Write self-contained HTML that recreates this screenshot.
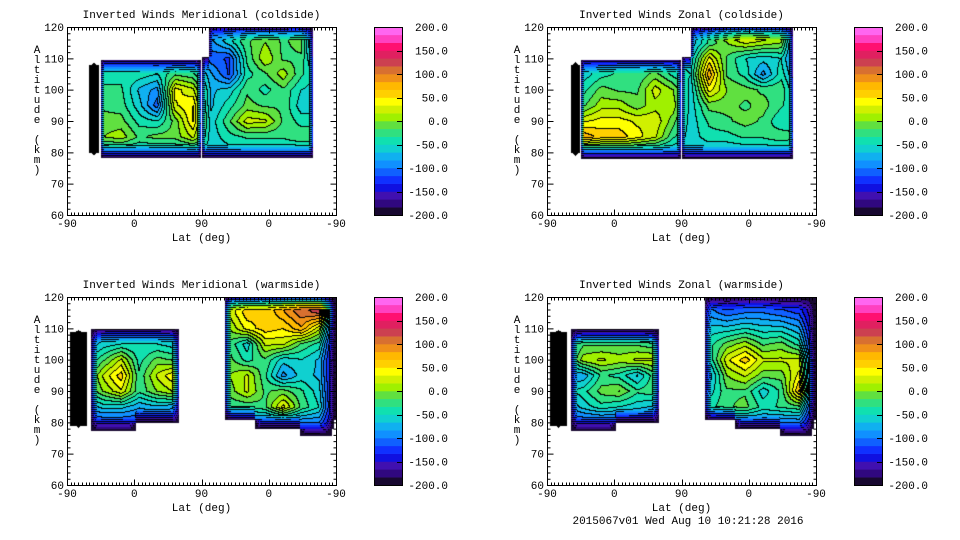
<!DOCTYPE html>
<html><head><meta charset="utf-8">
<style>
body{margin:0;background:#fff;width:960px;height:540px;overflow:hidden;position:relative;font-family:"Liberation Mono",monospace;}
canvas{position:absolute;}
svg{position:absolute;left:0;top:0;}
text{font-family:"Liberation Mono",monospace;font-size:11px;fill:#000;}
</style></head>
<body>
<div id="plots"></div>
<svg id="ov" width="960" height="540"></svg>
<script>
// ---- data ----
const colAlts = [120,115,110,105,100,95,90,85,80,75];
const colPos = [0,18,36,54,72,90,108,126,144,162,180,198,216,234,252,270];
const xTickLabels = ["-90","0","90","0","-90"];
const yTickLabels = [60,70,80,90,100,110,120];
const cbLabels = ["200.0","150.0","100.0","50.0","0.0","-50.0","-100.0","-150.0","-200.0"];
const bandColors = ["#180830","#300880","#4010b0","#1010e0","#1030ff","#1060ff","#1090ff","#10b0f0","#10d0d0","#10e0b0","#30e080","#60e040","#a0f000","#d0f000","#ffff00","#ffd000","#ffb800","#f09018","#d87030","#cc4050","#e02060","#ff1070","#ff40c0","#ff66f0"];
const titles = ["Inverted Winds Meridional (coldside)","Inverted Winds Zonal (coldside)","Inverted Winds Meridional (warmside)","Inverted Winds Zonal (warmside)"];
const gridMerCold = [
[0,0,0,0,0,0,0,0,-60,-40,-25,-20,-20,-10,-150,-150],
[0,0,0,0,0,0,0,0,-90,-60,-20,0,-20,-10,-150,-150],
[0,0,-60,-60,-60,-60,-60,-60,-110,-120,-30,15,-20,-20,-100,-150],
[0,0,-40,-40,-40,-50,-20,-30,-80,-120,-40,-20,10,-30,-60,-100],
[0,0,-30,-30,-70,-90,40,20,-70,-60,-20,-40,-20,-50,-60,-60],
[0,0,-20,-25,-60,-110,30,50,-70,-40,-10,-20,-20,-60,-60,-60],
[0,0,-10,-10,-40,-50,-10,50,-60,-20,25,20,-20,-40,-40,-40],
[0,0,0,10,-20,-10,-10,20,-60,-40,-30,-30,-30,-20,-20,-20],
[-60,-60,-60,-60,-60,-60,-60,-60,-60,-60,-60,-60,-60,-60,-60,-60],
[-150,-150,-150,-150,-150,-150,-150,-150,-150,-150,-150,-150,-150,-150,-150,-150]];
const gridZonCold = [
[0,0,0,0,0,0,0,0,-80,-20,40,80,60,40,-150,-150],
[0,0,0,0,0,0,0,0,-80,-30,0,20,10,0,-150,-150],
[0,0,-50,-40,-40,-40,-40,-50,-60,40,-20,-50,-60,-50,-120,-150],
[0,0,-60,-40,-30,-30,-10,-40,-50,80,-20,-40,-90,-40,-100,-100],
[0,0,-40,-10,-20,-20,25,0,-60,40,0,-10,-20,-20,-80,-80],
[0,0,-20,10,10,-10,10,10,-60,-10,-10,-20,-10,-30,-60,-60],
[0,0,30,40,40,30,30,-10,-60,-30,-20,-10,-20,-50,-50,-50],
[0,0,80,60,60,40,20,-30,-60,-40,-40,-30,-30,-20,-30,-30],
[-70,-70,-70,-70,-70,-70,-70,-70,-70,-70,-70,-70,-70,-70,-70,-70],
[-150,-150,-150,-150,-150,-150,-150,-150,-150,-150,-150,-150,-150,-150,-150,-150]];
const gridMerWarm = [
[0,0,0,0,0,0,0,0,0,20,50,60,90,130,130,-180],
[0,0,0,0,0,0,0,0,0,20,60,50,80,110,120,-180],
[-180,-120,-90,-90,-90,-90,-100,0,0,0,40,60,50,80,20,-180],
[-180,-80,-60,-50,-50,-50,-60,0,0,-20,-60,20,20,-20,-40,-180],
[-180,-60,-20,20,-40,-10,-20,0,0,-10,-40,-20,-60,-50,-70,-180],
[-180,-40,20,60,-30,20,50,0,0,0,20,-30,-90,-60,-70,-180],
[-180,-40,0,30,-30,0,20,0,0,-10,20,-20,-10,-30,-60,-180],
[-180,-80,-60,-60,-80,-70,-80,0,0,-30,-30,-20,40,-20,-50,-180],
[-180,-120,-120,-120,-120,-120,-120,0,0,-100,-100,-100,-100,-100,-100,-180],
[-160,-160,-160,-160,-160,-160,-160,-160,-160,-160,-160,-160,-160,-160,-160,-180]];
const gridZonWarm = [
[0,0,0,0,0,0,0,0,0,-120,-140,-120,-120,-140,-140,-180],
[0,0,0,0,0,0,0,0,0,-90,-110,-100,-100,-110,-120,-180],
[-180,-140,-130,-130,-130,-130,-130,0,0,-60,-60,-50,-60,-60,-80,-180],
[-180,-60,-20,-20,-20,-20,-30,0,0,-40,-10,10,-20,-10,-40,-180],
[-180,-60,10,20,10,20,20,0,0,-50,30,60,20,20,20,-180],
[-180,-80,-80,-30,-40,-70,-20,0,0,-80,0,20,-10,-10,40,-180],
[-180,-60,-40,-10,0,-30,-20,0,0,-60,-20,-20,-60,-30,70,-180],
[-180,-90,-60,-40,-50,-60,-70,0,0,-40,-20,-10,-40,-30,-20,-180],
[-180,-120,-120,-120,-120,-120,-120,0,0,-100,-100,-100,-100,-100,-100,-180],
[-160,-160,-160,-160,-160,-160,-160,-160,-160,-160,-160,-160,-160,-160,-160,-180]];

const panels = [
 {name:"meridional-coldside", x:67, y:27, grid:gridMerCold, dx:4,
  strips:[[22,31,79,109]], rects:[[34,133,78.5,109.5],[135,245,78.5,110.5],[142,245,110,121]]},
 {name:"zonal-coldside", x:547, y:27, grid:gridZonCold, dx:4,
  strips:[[24,32,79,109]], rects:[[34,133,78,109.5],[135,245,78,110.5],[144,245,110,121]]},
 {name:"meridional-warmside", x:67, y:297, grid:gridMerWarm, dx:7,
  strips:[[3,19,78,110]], rects:[[24,68,77.5,110],[24,111,80,110],[158,268,81,121],[188,266,78,121],[233,264,75.7,121]]},
 {name:"zonal-warmside", x:547, y:297, grid:gridZonWarm, dx:7,
  strips:[[3,19,78,110]], rects:[[24,68,77.5,110],[24,111,80,110],[158,268,81,121],[188,266,78,121],[233,264,75.7,121]]}
];
const W=269,H=188;
const NS="http://www.w3.org/2000/svg";
const ov=document.getElementById('ov');
function hex(c){return [parseInt(c.substr(1,2),16),parseInt(c.substr(3,2),16),parseInt(c.substr(5,2),16)];}
const rgb=bandColors.map(hex);
function altToY(a){return (120-a)/60*H;}
function sample(g,px,alt){
  let c=px/18, r=(120-alt)/5;
  c=Math.max(0,Math.min(colPos.length-1.001,c)); r=Math.max(0,Math.min(colAlts.length-1.001,r));
  const c0=Math.floor(c),r0=Math.floor(r),fc=c-c0,fr=r-r0;
  return g[r0][c0]*(1-fc)*(1-fr)+g[r0][c0+1]*fc*(1-fr)+g[r0+1][c0]*(1-fc)*fr+g[r0+1][c0+1]*fc*fr;
}
function mk(tag,attrs,name,parent){const e=document.createElementNS(NS,tag);for(const k in attrs)e.setAttribute(k,attrs[k]);
 
 
 (parent||ov).appendChild(e);return e;}
function txt(x,y,s,anchor,name){const t=mk('text',{x:x,y:y,'text-anchor':anchor||'start'},name);t.textContent=s;return t;}

panels.forEach((p)=>{
  const cv=document.createElement('canvas');cv.width=W;cv.height=H;
  cv.style.left=p.x+'px';cv.style.top=p.y+'px';
  
  
  document.getElementById('plots').appendChild(cv);
  const mask=new Uint8Array(W*H), strip=new Uint8Array(W*H);
  for(let py=0;py<H;py++)for(let px=0;px<W;px++){
    const a=120-py/H*60;
    for(const r of p.rects) if(px>=r[0]&&px<=r[1]&&a>=r[2]&&a<=r[3]) mask[py*W+px]=1;
    for(const r of p.strips){const cx=(r[0]+r[1])/2,rx=(r[1]-r[0])/2;
      const y0=altToY(r[3]),y1=altToY(r[2]);
      if(px>=r[0]&&px<=r[1]&&py>=y0&&py<=y1){
        const ey=Math.min(py-y0,y1-py),ex=rx-Math.abs(px-cx);
        if(ey>rx-ex*0.9||ey>3){mask[py*W+px]=1;strip[py*W+px]=1;}}}
  }
  const dxA=new Float32Array(W*H),dyA=new Float32Array(W*H);
  for(let py=0;py<H;py++){let d=0;for(let px=0;px<W;px++){d=mask[py*W+px]?d+1:0;dxA[py*W+px]=d;}
    d=0;for(let px=W-1;px>=0;px--){d=mask[py*W+px]?d+1:0;dxA[py*W+px]=Math.min(dxA[py*W+px],d);}}
  for(let px=0;px<W;px++){let d=0;for(let py=0;py<H;py++){d=mask[py*W+px]?d+1:0;dyA[py*W+px]=d;}
    d=0;for(let py=H-1;py>=0;py--){d=mask[py*W+px]?d+1:0;dyA[py*W+px]=Math.min(dyA[py*W+px],d);}}
  const band=new Int16Array(W*H).fill(-1), full=new Uint8Array(W*H);
  for(let py=0;py<H;py++)for(let px=0;px<W;px++){
    const i=py*W+px;if(!mask[i])continue;
    const a=120-py/H*60;
    let v=strip[i]?-205:sample(p.grid,px,a);
    const f=Math.min(1,dyA[i]/14)*Math.min(1,dxA[i]/p.dx);
    full[i]=f>=1?1:0;
    v=-210+(v+210)*Math.pow(f,0.6);
    band[i]=Math.max(0,Math.min(23,Math.floor((v+200)/400*24)));
  }
  const ctx=cv.getContext('2d');const im=ctx.createImageData(W,H);
  for(let py=0;py<H;py++)for(let px=0;px<W;px++){
    const i=py*W+px,b=band[i];let c=[255,255,255];
    if(b>=0){c=strip[i]?[0,0,0]:rgb[b];
      if(!strip[i]){
        const r=px<W-1?band[i+1]:b, d=py<H-1?band[i+W]:b;
        const edge=(r>=0&&r!==b)||(d>=0&&d!==b);
        if(edge&&(full[i]||(py%2===0))) c=[0,0,0];}}
    im.data[i*4]=c[0];im.data[i*4+1]=c[1];im.data[i*4+2]=c[2];im.data[i*4+3]=255;
  }
  ctx.putImageData(im,0,0);
});

panels.forEach((p,k)=>{
  const x0=p.x+0.5,y0=p.y+0.5;
  txt(p.x+W/2,p.y-9,titles[k],'middle','chart-title');
  mk('rect',{x:x0,y:y0,width:W,height:H,fill:'none',stroke:'#000','stroke-width':1},'plot-frame');
  let d='';
  for(let a=60;a<=120;a+=2){const y=p.y+altToY(a)+0.5,L=(a%10===0)?6:3;
    d+=`M${x0} ${y}h${L}M${x0+W} ${y}h${-L}`;}
  for(let deg=0;deg<=360;deg+=5){const x=Math.round(p.x+deg/360*W)+0.5,L=(deg%90===0)?6:3;
    d+=`M${x} ${y0}v${L}M${x} ${y0+H}v${-L}`;}
  mk('path',{d:d,stroke:'#000','stroke-width':1,fill:'none'},'axis-ticks');
  yTickLabels.forEach(a=>{txt(p.x-3,p.y+altToY(a)+4,String(a),'end','y-tick-label');});
  xTickLabels.forEach((s,j)=>{txt(p.x+j*W/4,p.y+H+12,s,'middle','x-tick-label');});
  txt(p.x+W/2,p.y+H+26,'Lat (deg)','middle','x-axis-title');
  const yl="Altitude (km)";
  for(let j=0;j<yl.length;j++) txt(p.x-30,p.y+26+j*10,yl[j],'middle','y-axis-title');
  const cx=p.x+307,bw=28,bh=H/24;
  bandColors.forEach((c,j)=>{mk('rect',{x:cx,y:p.y+H-(j+1)*bh,width:bw,height:bh+0.3,fill:c},'colorbar-band');});
  mk('rect',{x:cx+0.5,y:y0,width:bw,height:H,fill:'none',stroke:'#000'},'colorbar-frame');
  let cd='';
  cbLabels.forEach((s,j)=>{const y=p.y+j*H/8;txt(cx+74,y+4,s,'end','colorbar-label');
    if(j>0&&j<8)cd+=`M${cx+bw} ${Math.round(y)+0.5}h-5`;});
  mk('path',{d:cd,stroke:'#000'},'colorbar-ticks');
});
txt(688,524,'2015067v01 Wed Aug 10 10:21:28 2016','middle','timestamp-footer');
</script>
</body></html>
